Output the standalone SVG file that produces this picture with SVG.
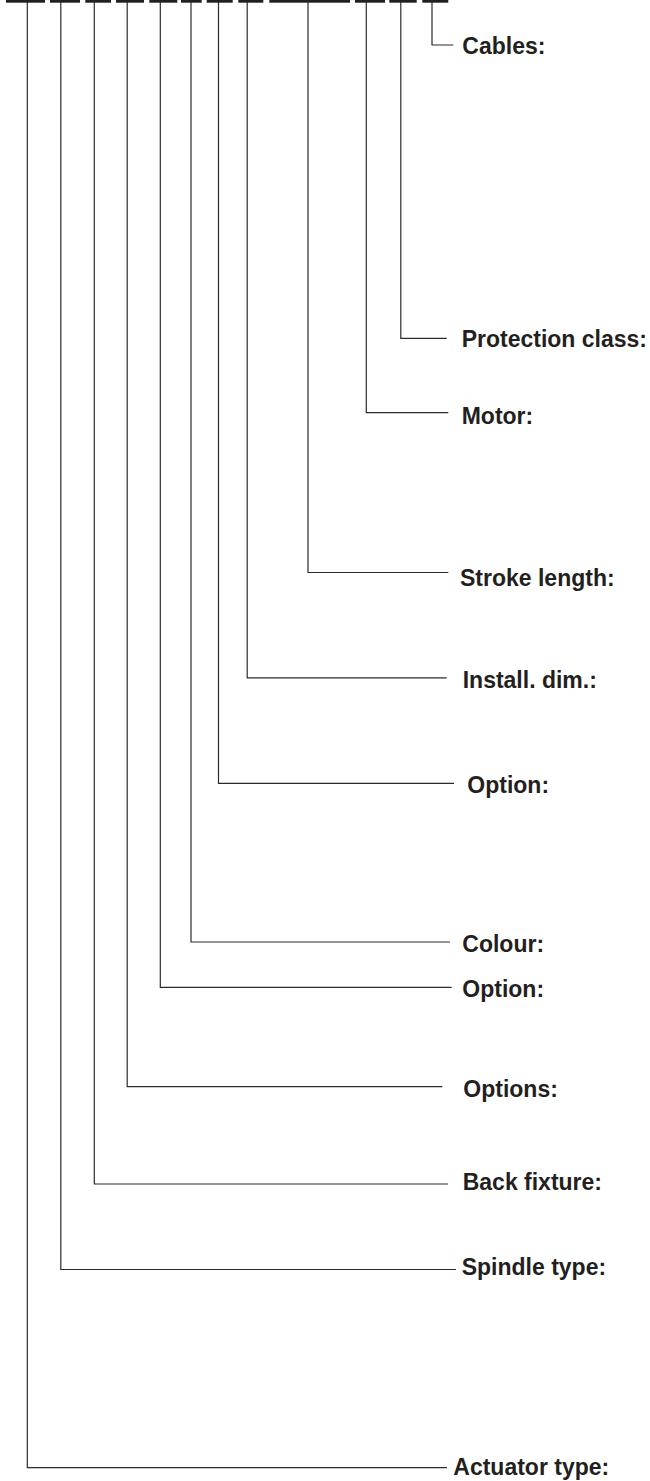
<svg xmlns="http://www.w3.org/2000/svg" width="650" height="1481" viewBox="0 0 650 1481">
<style>
.bar{fill:#231f20}
.con{fill:none;stroke:#2b2b2b;stroke-width:1.2}
.lbl{font-family:"Liberation Sans",Arial,sans-serif;font-weight:bold;font-size:23px;fill:#231f20}
</style>
<rect width="650" height="1481" fill="#ffffff"/>
<g id="code-bars">
<rect class="bar" x="6" y="0" width="39" height="2.7"/>
<rect class="bar" x="50" y="0" width="30" height="2.7"/>
<rect class="bar" x="85.3" y="0" width="25.7" height="2.7"/>
<rect class="bar" x="116" y="0" width="28" height="2.7"/>
<rect class="bar" x="149.3" y="0" width="28" height="2.7"/>
<rect class="bar" x="181" y="0" width="20.7" height="2.7"/>
<rect class="bar" x="206.7" y="0" width="26" height="2.7"/>
<rect class="bar" x="238.3" y="0" width="25" height="2.7"/>
<rect class="bar" x="269.3" y="0" width="80.7" height="2.7"/>
<rect class="bar" x="355" y="0" width="30" height="2.7"/>
<rect class="bar" x="389.3" y="0" width="27.4" height="2.7"/>
<rect class="bar" x="422.3" y="0" width="26" height="2.7"/>
</g>
<g id="connectors">
<path class="con" d="M27.3 2 V1467.7 H447"/>
<path class="con" d="M60.8 2 V1269.5 H456"/>
<path class="con" d="M94.3 2 V1184 H448"/>
<path class="con" d="M127.2 2 V1086.7 H442.3"/>
<path class="con" d="M160.3 2 V987.3 H451.7"/>
<path class="con" d="M191 2 V942 H450"/>
<path class="con" d="M218.5 2 V783.3 H454"/>
<path class="con" d="M247.2 2 V677.8 H446.7"/>
<path class="con" d="M308 2 V572.5 H448.3"/>
<path class="con" d="M366.3 2 V412.7 H448.3"/>
<path class="con" d="M400.8 2 V338.3 H446.7"/>
<path class="con" d="M432 2 V45 H453.3"/>
</g>
<g id="cables"><text class="lbl" x="462.3" y="54">Cables:</text></g>
<g id="protection-class"><text class="lbl" x="461.7" y="347.3">Protection class:</text></g>
<g id="motor"><text class="lbl" x="461.7" y="424">Motor:</text></g>
<g id="stroke-length"><text class="lbl" x="460" y="586">Stroke length:</text></g>
<g id="install-dim"><text class="lbl" x="462.7" y="688.3">Install. dim.:</text></g>
<g id="option-1"><text class="lbl" x="467.3" y="793.3">Option:</text></g>
<g id="colour"><text class="lbl" x="462.3" y="952.3">Colour:</text></g>
<g id="option-2"><text class="lbl" x="462.3" y="997.3">Option:</text></g>
<g id="options"><text class="lbl" x="463.3" y="1097.3">Options:</text></g>
<g id="back-fixture"><text class="lbl" x="462.7" y="1190">Back fixture:</text></g>
<g id="spindle-type"><text class="lbl" x="461.7" y="1275">Spindle type:</text></g>
<g id="actuator-type"><text class="lbl" x="453.3" y="1475">Actuator type:</text></g>
</svg>
